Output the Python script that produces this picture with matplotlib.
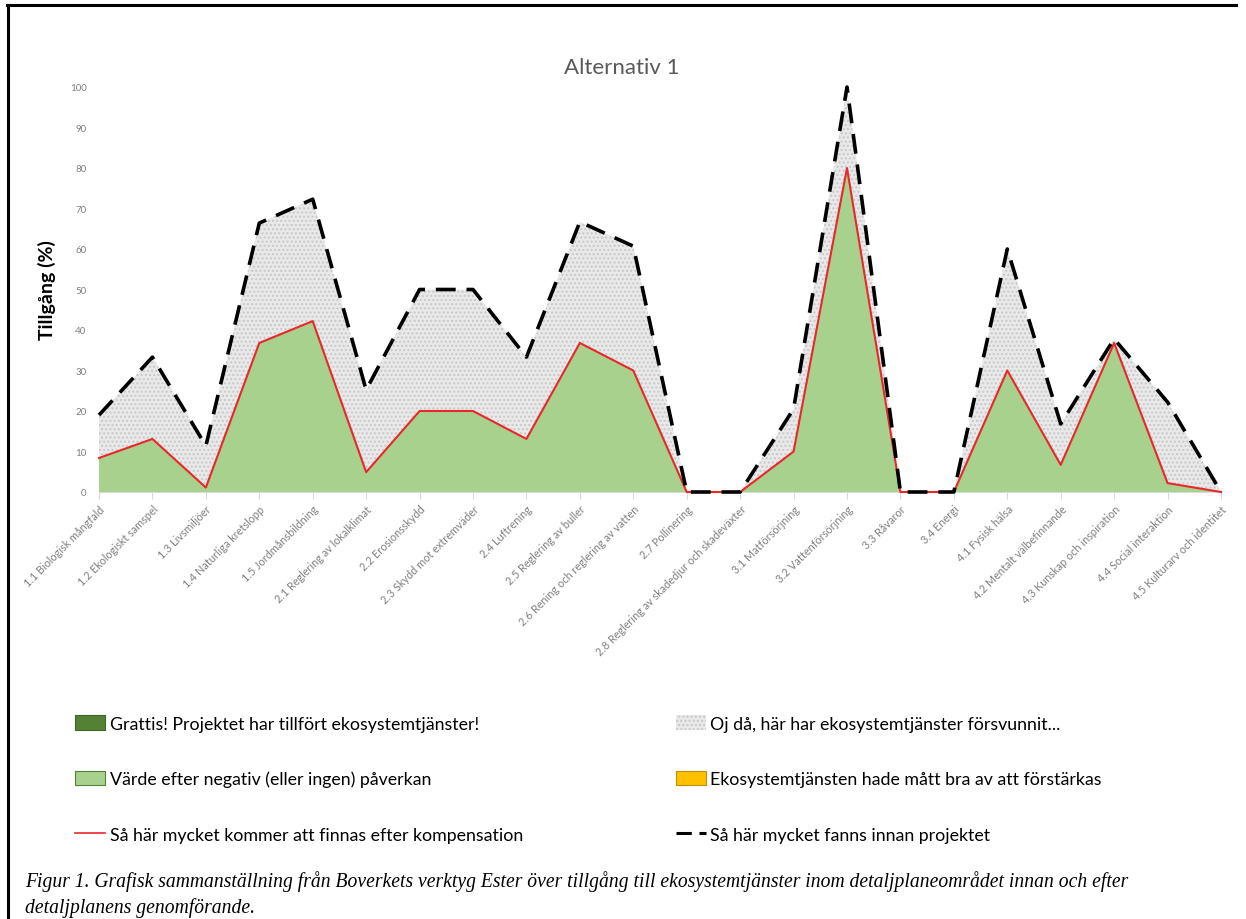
import matplotlib
matplotlib.use("Agg")
import matplotlib.pyplot as plt
from matplotlib.patches import Patch
from matplotlib.lines import Line2D
import numpy as np

categories = [
    "1.1 Biologisk mångfald", "1.2 Ekologiskt samspel", "1.3 Livsmiljöer",
    "1.4 Naturliga kretslopp", "1.5 Jordmånsbildning", "2.1 Reglering av lokalklimat",
    "2.2 Erosionsskydd", "2.3 Skydd mot extremväder", "2.4 Luftrening",
    "2.5 Reglering av buller", "2.6 Rening och reglering av vatten", "2.7 Pollinering",
    "2.8 Reglering av skadedjur och skadeväxter", "3.1 Matförsörjning",
    "3.2 Vattenförsörjning", "3.3 Råvaror", "3.4 Energi", "4.1 Fysisk hälsa",
    "4.2 Mentalt välbefinnande", "4.3 Kunskap och inspiration",
    "4.4 Social interaktion", "4.5 Kulturarv och identitet",
]
before = [19, 33.3, 11.4, 66.4, 72.3, 25.2, 50, 50, 33.3, 66.7, 60.7, 0, 0,
          20.5, 100, 0, 0, 60, 16.8, 37.8, 22.2, 0]
after = [8.4, 13.1, 1.1, 36.8, 42.2, 4.9, 20, 20, 13.1, 36.8, 30, 0, 0,
         10, 80, 0, 0, 30, 6.7, 36.8, 2.2, 0]
yticks = [0, 10, 20, 30, 40, 50, 60, 70, 80, 90, 100]

fig = plt.figure(figsize=(12.46, 9.2), dpi=100)
ax = fig.add_axes([99/1246, 1-493/920, (1221-99)/1246, (493-88)/920])
x = np.arange(len(categories))

ax.fill_between(x, after, before, facecolor="#e9e9e9", edgecolor="#c8c8c8",
                hatch="....", linewidth=0, zorder=1)
ax.fill_between(x, 0, after, facecolor="#a9d18e", edgecolor="none", zorder=2)
ax.plot(x, after, color="#e8282b", lw=1.5, zorder=3, clip_on=False)
ax.plot(x, before, color="black", lw=2.6, dashes=(5.5, 3), zorder=4, clip_on=False)

ax.set_xlim(0, len(categories)-1)
ax.set_ylim(0, 100)
ax.set_yticks(yticks)
ax.set_yticklabels([str(v) for v in yticks], fontsize=7, color="#7f7f7f", family="Lato")
ax.tick_params(axis="y", length=0, pad=9)
ax.set_xticks(x)
ax.set_xticklabels(categories, rotation=45, ha="right", rotation_mode="anchor",
                   fontsize=7.8, color="#7f7f7f", family="Lato")
ax.tick_params(axis="x", length=5, color="#d9d9d9", pad=3)
for s in ["top", "right", "left"]:
    ax.spines[s].set_visible(False)
ax.spines["bottom"].set_color("#d9d9d9")
ax.spines["bottom"].set_zorder(0)

ax.set_ylabel("Tillgång (%)", fontsize=14, fontweight="bold", family="Lato",
              color="black", labelpad=10)
fig.text(622/1246, 1-68/920, "Alternativ 1", ha="center", va="center",
         fontsize=16, color="#595959", family="Lato")

handles = [
    Patch(facecolor="#548235", edgecolor="#3f6428", lw=0.8),
    Patch(facecolor="#a9d18e", edgecolor="#548235", lw=0.8),
    Line2D([0], [0], color="#e8282b", lw=1.2),
    Patch(facecolor="#e9e9e9", edgecolor="#c8c8c8", hatch="....", lw=0),
    Patch(facecolor="#ffc000", edgecolor="#bf9000", lw=0.8),
    Line2D([0], [0], color="black", lw=2.2, dashes=(5, 2.5)),
]
labels = [
    "Grattis! Projektet har tillfört ekosystemtjänster!",
    "Värde efter negativ (eller ingen) påverkan",
    "Så här mycket kommer att finnas efter kompensation",
    "Oj då, här har ekosystemtjänster försvunnit...",
    "Ekosystemtjänsten hade mått bra av att förstärkas",
    "Så här mycket fanns innan projektet",
]
fig.legend(handles, labels, ncol=2, loc="upper left",
           bbox_to_anchor=(59/1246, 1-700/920), frameon=False,
           prop={"family": "Lato", "size": 12.8}, handlelength=1.7,
           handleheight=0.9, handletextpad=0.25, labelspacing=2.2,
           columnspacing=8.6)

cap_font = {"family": "Liberation Serif", "style": "italic", "size": 14.1}
fig.text(25/1246, 1-882/920,
         "Figur 1. Grafisk sammanställning från Boverkets verktyg Ester över tillgång till "
         "ekosystemtjänster inom detaljplaneområdet innan och efter",
         ha="left", va="center", **cap_font)
fig.text(25/1246, 1-908/920, "detaljplanens genomförande.",
         ha="left", va="center", **cap_font)

fig.add_artist(Line2D([8/1246, 8/1246], [0, 1-6/920], color="black", lw=2.2,
                      transform=fig.transFigure))
fig.add_artist(Line2D([7/1246, 1236/1246], [1-6/920, 1-6/920], color="black", lw=2.2,
                      transform=fig.transFigure))

fig.savefig("out.png", dpi=100)
